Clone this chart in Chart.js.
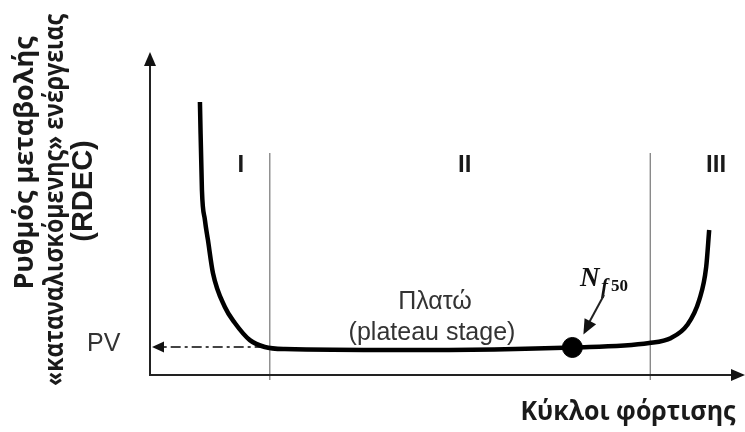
<!DOCTYPE html>
<html lang="el">
<head>
  <meta charset="UTF-8">
  <title>RDEC – Κύκλοι φόρτισης</title>
  <script src="https://cdn.jsdelivr.net/npm/chart.js"></script>
  <style>
    html, body { margin: 0; padding: 0; background: #fff; overflow: hidden; }
    #chart-container { width: 745px; height: 432px; }
  </style>
</head>
<body>
  <div id="chart-container">
    <canvas id="rdecChart"></canvas>
  </div>

  <script>
    // καμπύλη RDEC (αυθαίρετες μονάδες, 0-100)
    const cycles = [8.49, 8.83, 9.34, 9.85, 10.7, 12.73, 14.43, 16.98, 19.52, 22.92, 42.44, 71.82, 84.89, 88.62, 91.34, 93.38, 94.57, 95.08];
    const rdec   = [85.3, 57.8, 48.4, 42.2, 31.9, 21.25, 16.25, 10.9, 8.75, 8.1, 7.8, 8.6, 10.0, 11.6, 15.6, 23.4, 33.75, 45.3];

    const stageBounds = [20.37, 85.06];
    const stageTop = 69.4;
    const stageLabels = ['I', 'II', 'III'];
    const stageLabelX = [15.45, 53.5, 96.26];
    const stageLabelY = 65.6;

    const pvValue = 8.75;
    const nf50 = { x: 71.82, y: 8.6 };

    const yTitle = ['Ρυθμός μεταβολής', '«καταναλισκόμενης» ενέργειας', '(RDEC)'];
    const xTitle = 'Κύκλοι φόρτισης';

    function arrowHead(ctx, x, y, angle, len, half) {
      ctx.save();
      ctx.translate(x, y);
      ctx.rotate(angle);
      ctx.beginPath();
      ctx.moveTo(0, 0);
      ctx.lineTo(-len, -half);
      ctx.lineTo(-len, half);
      ctx.closePath();
      ctx.fill();
      ctx.restore();
    }

    const decorPlugin = {
      id: 'decor',
      afterDatasetsDraw(chart) {
        const ctx = chart.ctx;
        const xs = chart.scales.x, ys = chart.scales.y;
        const x0 = xs.getPixelForValue(0), y0 = ys.getPixelForValue(0);
        ctx.save();

        // άξονες με βέλη
        ctx.strokeStyle = '#222';
        ctx.fillStyle = '#111';
        ctx.lineWidth = 2;
        ctx.beginPath();
        ctx.moveTo(x0, y0 + 1);
        ctx.lineTo(x0, 64);
        ctx.moveTo(x0, y0);
        ctx.lineTo(733, y0);
        ctx.stroke();
        arrowHead(ctx, x0, 52, -Math.PI / 2, 14, 6);
        arrowHead(ctx, 745, y0, 0, 14, 6);

        // PV βέλος
        const pvY = ys.getPixelForValue(pvValue);
        arrowHead(ctx, x0 + 2, pvY, Math.PI, 12, 5.5);

        // κείμενα
        ctx.fillStyle = '#1a1a1a';
        ctx.textAlign = 'center';
        ctx.textBaseline = 'middle';
        ctx.font = 'bold 24px "Liberation Sans", Arial, sans-serif';
        stageLabels.forEach((t, i) => {
          ctx.fillText(t, xs.getPixelForValue(stageLabelX[i]), ys.getPixelForValue(stageLabelY));
        });

        ctx.font = '25px "Liberation Sans", Arial, sans-serif';
        ctx.fillStyle = '#333';
        ctx.fillText('Πλατώ', 435, 302);
        ctx.fillText('(plateau stage)', 432, 333);

        ctx.textAlign = 'left';
        ctx.fillText('PV', 87, pvY - 3);

        // N_f50
        ctx.fillStyle = '#111';
        ctx.textBaseline = 'alphabetic';
        ctx.font = 'bold italic 27px "Liberation Serif", serif';
        ctx.fillText('N', 580, 286);
        ctx.font = 'bold italic 21px "Liberation Serif", serif';
        ctx.fillText('f', 601, 293);
        ctx.font = 'bold 17px "Liberation Serif", serif';
        ctx.fillText('50', 611, 291);

        const nx = xs.getPixelForValue(nf50.x), ny = ys.getPixelForValue(nf50.y);
        ctx.strokeStyle = '#222';
        ctx.lineWidth = 2;
        ctx.beginPath();
        ctx.moveTo(604, 295);
        ctx.lineTo(nx + 14, ny - 20);
        ctx.stroke();
        arrowHead(ctx, nx + 11, ny - 13, Math.atan2((ny - 13) - 295, (nx + 11) - 604), 15, 6.5);

        // τίτλοι αξόνων (στενά γράμματα όπως στο πρωτότυπο -> maxWidth)
        ctx.fillStyle = '#1a1a1a';
        ctx.textAlign = 'center';
        ctx.textBaseline = 'middle';
        ctx.font = 'bold 26px "Open Sans", sans-serif';
        ctx.fillText(xTitle, 628, 413, 215);

        const yFonts = [
          'bold 27px "Open Sans", sans-serif',
          'bold 26px "Open Sans", sans-serif',
          'bold 29px "Liberation Sans", Arial, sans-serif'
        ];
        const yPos = [[25, 163, 300], [56, 200, 372], [84, 191, 108]];
        yTitle.forEach((t, i) => {
          ctx.save();
          ctx.translate(yPos[i][0], yPos[i][1]);
          ctx.rotate(-Math.PI / 2);
          ctx.font = yFonts[i];
          ctx.fillText(t, 0, 0, yPos[i][2]);
          ctx.restore();
        });

        ctx.restore();
      }
    };

    const ctx = document.getElementById('rdecChart').getContext('2d');
    new Chart(ctx, {
      type: 'line',
      data: {
        datasets: [
          {
            label: 'RDEC',
            data: cycles.map((c, i) => ({ x: c, y: rdec[i] })),
            borderColor: '#000',
            borderWidth: 4.5,
            pointRadius: 0,
            cubicInterpolationMode: 'monotone',
            clip: false
          },
          {
            label: 'όριο I/II',
            data: [{ x: stageBounds[0], y: stageTop }, { x: stageBounds[0], y: -1.6 }],
            borderColor: '#777',
            borderWidth: 1.2,
            pointRadius: 0,
            clip: false
          },
          {
            label: 'όριο II/III',
            data: [{ x: stageBounds[1], y: stageTop }, { x: stageBounds[1], y: -1.6 }],
            borderColor: '#777',
            borderWidth: 1.2,
            pointRadius: 0,
            clip: false
          },
          {
            label: 'PV',
            data: [{ x: 19.5, y: pvValue }, { x: 1.5, y: pvValue }],
            borderColor: '#444',
            borderWidth: 2,
            borderDash: [10, 4, 3, 4],
            pointRadius: 0,
            clip: false
          },
          {
            label: 'Nf50',
            type: 'scatter',
            data: [nf50],
            backgroundColor: '#000',
            borderColor: '#000',
            pointRadius: 10,
            clip: false
          }
        ]
      },
      options: {
        responsive: true,
        maintainAspectRatio: false,
        animation: false,
        layout: { padding: { left: 150, right: 0, top: 55, bottom: 57 } },
        plugins: {
          legend: { display: false },
          tooltip: { enabled: false }
        },
        scales: {
          x: { type: 'linear', min: 0, max: 99.3, display: false },
          y: { type: 'linear', min: 0, max: 100, display: false }
        }
      },
      plugins: [decorPlugin]
    });
  </script>
</body>
</html>
